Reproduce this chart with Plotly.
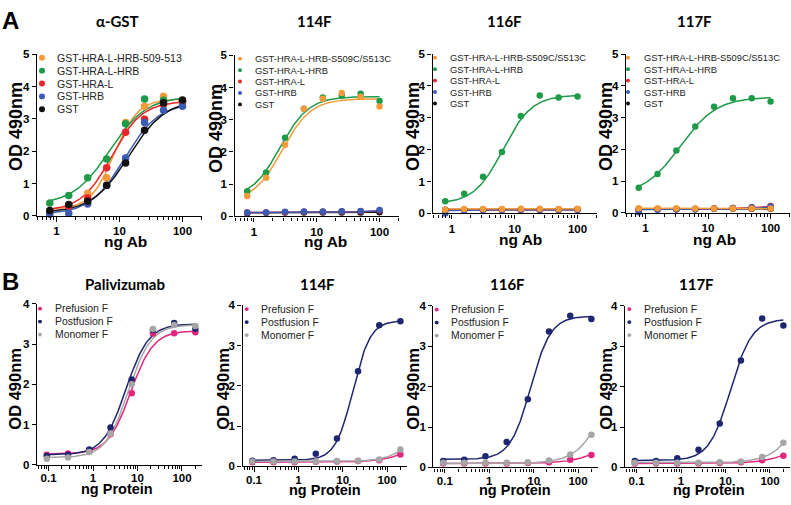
import numpy as np
import plotly.graph_objects as go

W, H = 791, 505

# ---------------- data ----------------
X_AB = [0.78125, 1.5625, 3.125, 6.25, 12.5, 25, 50, 100]          # ng Ab
X_PROT = [0.0914, 0.274, 0.823, 2.47, 7.41, 22.2, 66.7, 200]       # ng Protein

A_TITLES = ["α-GST", "114F", "116F", "117F"]
B_TITLES = ["Palivizumab", "114F", "116F", "117F"]
A_LABELS_1 = ["GST-HRA-L-HRB-509-513", "GST-HRA-L-HRB", "GST-HRA-L", "GST-HRB", "GST"]
A_LABELS_2 = ["GST-HRA-L-HRB-S509C/S513C", "GST-HRA-L-HRB", "GST-HRA-L", "GST-HRB", "GST"]
B_LABELS = ["Prefusion F", "Postfusion F", "Monomer F"]

A_COLORS = ["#F39A3B", "#1E9A48", "#E5262A", "#3B5BB5", "#111111"]
B_COLORS = ["#E0267D", "#1F2670", "#A6A6A6"]

Y_TICKS_A = [0, 1, 2, 3, 4, 5]
Y_TICKS_B = [0, 1, 2, 3, 4]
X_TICKS_A = [1, 10, 100]
X_TICKS_B = [0.1, 1, 10, 100]

# OD 490nm readings (series order = legend order)
AGST_OD = [
    [0.07, 0.33, 0.70, 1.18, 2.89, 3.39, 3.70, 3.47],
    [0.40, 0.63, 1.18, 1.76, 2.85, 3.62, 3.58, 3.55],
    [0.14, 0.30, 0.55, 1.49, 2.59, 2.99, 3.45, 3.55],
    [0.05, 0.08, 0.37, 0.94, 1.79, 2.89, 3.27, 3.39],
    [0.17, 0.35, 0.45, 0.95, 1.64, 2.65, 3.50, 3.59],
]
A114_OD = [
    [0.63, 1.20, 2.22, 3.34, 3.65, 3.83, 3.71, 3.41],
    [0.78, 1.36, 2.44, 3.34, 3.69, 3.75, 3.81, 3.58],
    [0.12, 0.12, 0.13, 0.14, 0.14, 0.15, 0.16, 0.18],
    [0.12, 0.12, 0.14, 0.15, 0.15, 0.16, 0.17, 0.20],
    [0.10, 0.11, 0.12, 0.12, 0.12, 0.12, 0.12, 0.13],
]
A116_OD = [
    [0.12, 0.14, 0.14, 0.14, 0.15, 0.15, 0.14, 0.15],
    [0.38, 0.62, 1.15, 1.93, 3.06, 3.70, 3.64, 3.67],
    [0.10, 0.12, 0.12, 0.12, 0.12, 0.12, 0.12, 0.12],
    [0.00, 0.10, 0.11, 0.11, 0.12, 0.12, 0.12, 0.12],
    [0.12, 0.12, 0.12, 0.12, 0.12, 0.12, 0.12, 0.13],
]
A117_OD = [
    [0.15, 0.15, 0.15, 0.14, 0.14, 0.14, 0.14, 0.14],
    [0.79, 1.23, 1.97, 2.72, 3.34, 3.61, 3.61, 3.51],
    [0.10, 0.12, 0.12, 0.13, 0.15, 0.16, 0.18, 0.22],
    [0.02, 0.10, 0.12, 0.12, 0.14, 0.16, 0.18, 0.20],
    [0.12, 0.12, 0.12, 0.12, 0.13, 0.13, 0.13, 0.13],
]
BPALI_OD = [
    [0.25, 0.28, 0.33, 0.76, 1.78, 3.26, 3.27, 3.29],
    [0.22, 0.25, 0.38, 0.93, 2.12, 3.35, 3.52, 3.38],
    [0.15, 0.18, 0.32, 0.77, 2.00, 3.37, 3.47, 3.45],
]
B114_OD = [
    [0.10, 0.10, 0.10, 0.11, 0.12, 0.13, 0.15, 0.29],
    [0.14, 0.15, 0.19, 0.31, 0.69, 2.36, 3.50, 3.60],
    [0.12, 0.12, 0.12, 0.12, 0.13, 0.14, 0.17, 0.42],
]
B116_OD = [
    [0.10, 0.10, 0.10, 0.10, 0.11, 0.13, 0.19, 0.31],
    [0.16, 0.19, 0.28, 0.63, 1.69, 3.37, 3.76, 3.68],
    [0.12, 0.12, 0.12, 0.12, 0.13, 0.17, 0.32, 0.81],
]
B117_OD = [
    [0.10, 0.10, 0.10, 0.10, 0.11, 0.13, 0.18, 0.29],
    [0.16, 0.16, 0.23, 0.44, 1.09, 2.65, 3.69, 3.52],
    [0.12, 0.12, 0.12, 0.12, 0.13, 0.15, 0.26, 0.61],
]

# 4-parameter logistic fit estimates: (bottom, top, EC50, Hill slope)
AGST_FIT = [(0.20, 3.62, 8.2, 2.3), (0.35, 3.70, 7.0, 1.5), (0.15, 3.55, 7.5, 1.8),
            (0.05, 3.50, 12.0, 1.6), (0.10, 3.60, 14.0, 1.5)]
A114_FIT = [(0.45, 3.65, 2.8, 1.9), (0.55, 3.72, 2.6, 1.9), (0.12, 0.60, 1000, 1.0),
            (0.12, 0.70, 1000, 1.0), (0.11, 0.13, 10, 1.0)]
A116_FIT = [(0.14, 0.15, 5, 1.0), (0.30, 3.72, 6.5, 1.9), (0.11, 0.12, 5, 1.0),
            (0.09, 0.12, 3, 1.5), (0.12, 0.13, 30, 1.0)]
A117_FIT = [(0.15, 0.14, 5, 1.0), (0.55, 3.65, 3.6, 1.5), (0.12, 1.00, 1000, 1.0),
            (0.11, 0.90, 1000, 1.0), (0.12, 0.13, 10, 1.0)]
BPALI_FIT = [(0.27, 3.33, 7.0, 1.7), (0.25, 3.50, 5.5, 1.7), (0.18, 3.48, 6.2, 1.7)]
B114_FIT = [(0.10, 0.80, 400, 1.3), (0.15, 3.62, 17, 2.2), (0.12, 1.50, 500, 1.5)]
B116_FIT = [(0.10, 1.00, 500, 1.2), (0.20, 3.75, 8.5, 1.9), (0.10, 4.00, 600, 1.3)]
B117_FIT = [(0.10, 1.00, 550, 1.2), (0.17, 3.68, 13, 1.8), (0.12, 4.00, 900, 1.3)]

# ---------------- layout helpers ----------------
def fx(p):
    return p / W

def fy(p):
    return 1 - p / H

def logistic(x, b, t, ec, h):
    x = np.asarray(x, dtype=float)
    return b + (t - b) / (1 + (ec / x) ** h)

FONT = "Liberation Sans, Arial, sans-serif"
TITLE_FONT = "Lato, Open Sans, sans-serif"

# panel boxes in px: left, right, top(ymax), bottom(ymin)
# leg = (marker x, text x, first line y, line step, font size, dot radius)
panels = [
    dict(box=(37, 202, 49.5, 215), xs=X_AB, od=AGST_OD, fit=AGST_FIT, colors=A_COLORS,
         labels=A_LABELS_1, title=A_TITLES[0], xr=[-0.31, 2.31], yt=Y_TICKS_A, xt=X_TICKS_A,
         order=[0, 1, 2, 3, 4], msize=7.5, leg=(42, 55, 53, 13.2, 10.6, 3.0), lstand=0,
         tpos=(117, 15), ylab=(16, 124, 18), xlab=(125, 241.5, 15.5), xname="ng Ab"),
    dict(box=(234.5, 399, 50.5, 215.5), xs=X_AB, od=A114_OD, fit=A114_FIT, colors=A_COLORS,
         labels=A_LABELS_2, title=A_TITLES[1], xr=[-0.31, 2.31], yt=Y_TICKS_A, xt=X_TICKS_A,
         order=[4, 2, 3, 1, 0], msize=6.5, leg=(240, 253, 54, 11.7, 9.4, 2.0), lstand=0,
         tpos=(314, 15), ylab=(216, 126, 18), xlab=(325, 241.5, 15.5), xname="ng Ab"),
    dict(box=(432.5, 597, 49.3, 212.5), xs=X_AB, od=A116_OD, fit=A116_FIT, colors=A_COLORS,
         labels=A_LABELS_2, title=A_TITLES[2], xr=[-0.31, 2.31], yt=Y_TICKS_A, xt=X_TICKS_A,
         order=[4, 2, 3, 1, 0], msize=6.5, leg=(435, 448.3, 53, 11.7, 9.4, 2.0), lstand=0,
         tpos=(504, 15), ylab=(413, 124, 18), xlab=(520, 239.5, 15.5), xname="ng Ab"),
    dict(box=(626, 790, 49.3, 212), xs=X_AB, od=A117_OD, fit=A117_FIT, colors=A_COLORS,
         labels=A_LABELS_2, title=A_TITLES[3], xr=[-0.31, 2.31], yt=Y_TICKS_A, xt=X_TICKS_A,
         order=[4, 2, 3, 1, 0], msize=6.5, leg=(628, 641.7, 53, 11.7, 9.4, 2.0), lstand=0,
         tpos=(694, 15), ylab=(606, 124, 18), xlab=(714, 239.5, 15.5), xname="ng Ab"),
    dict(box=(37, 202, 305, 470), xs=X_PROT, od=BPALI_OD, fit=BPALI_FIT, colors=B_COLORS,
         labels=B_LABELS, title=B_TITLES[0], xr=[-1.26, 2.45], yt=Y_TICKS_B, xt=X_TICKS_B,
         order=[0, 1, 2], msize=6.5, leg=(40, 53.3, 310, 13.3, 10.4, 2.0), lstand=-2,
         tpos=(125, 285), ylab=(15, 392, 16.5), xlab=(117, 494.5, 14.5), xname="ng Protein"),
    dict(box=(242.5, 407, 306.5, 471.5), xs=X_PROT, od=B114_OD, fit=B114_FIT, colors=B_COLORS,
         labels=B_LABELS, title=B_TITLES[1], xr=[-1.26, 2.45], yt=Y_TICKS_B, xt=X_TICKS_B,
         order=[0, 1, 2], msize=6.5, leg=(246.7, 259.3, 310.5, 13.3, 10.4, 2.0), lstand=-2,
         tpos=(317, 285), ylab=(223, 392, 16.5), xlab=(325, 495.5, 14.5), xname="ng Protein"),
    dict(box=(433.3, 598, 307.3, 472.7), xs=X_PROT, od=B116_OD, fit=B116_FIT, colors=B_COLORS,
         labels=B_LABELS, title=B_TITLES[2], xr=[-1.26, 2.45], yt=Y_TICKS_B, xt=X_TICKS_B,
         order=[0, 1, 2], msize=6.5, leg=(436.7, 449.3, 311, 13.3, 10.4, 2.0), lstand=-2,
         tpos=(507, 285), ylab=(413, 392, 16.5), xlab=(515, 496, 14.5), xname="ng Protein"),
    dict(box=(625, 790, 307.3, 472.7), xs=X_PROT, od=B117_OD, fit=B117_FIT, colors=B_COLORS,
         labels=B_LABELS, title=B_TITLES[3], xr=[-1.26, 2.45], yt=Y_TICKS_B, xt=X_TICKS_B,
         order=[0, 1, 2], msize=6.5, leg=(629.3, 641.7, 310.5, 13.3, 10.4, 2.0), lstand=-2,
         tpos=(696, 285), ylab=(606, 392, 16.5), xlab=(709, 496, 14.5), xname="ng Protein"),
]

fig = go.Figure()
annotations = []
shapes = []
layout_axes = {}

for i, p in enumerate(panels, start=1):
    xa = "x" if i == 1 else f"x{i}"
    ya = "y" if i == 1 else f"y{i}"
    xkey = "xaxis" if i == 1 else f"xaxis{i}"
    ykey = "yaxis" if i == 1 else f"yaxis{i}"
    l, r, t, b = p["box"]
    xs = p["xs"]
    xfine = np.geomspace(min(xs), max(xs), 200)

    for k in p["order"]:
        bb, tt, ec, hh = p["fit"][k]
        fig.add_trace(go.Scatter(
            x=xfine, y=logistic(xfine, bb, tt, ec, hh), mode="lines",
            line=dict(color=p["colors"][k], width=1.5), xaxis=xa, yaxis=ya,
            showlegend=False, hoverinfo="skip"))
    for k in p["order"]:
        fig.add_trace(go.Scatter(
            x=xs, y=p["od"][k], mode="markers",
            marker=dict(color=p["colors"][k], size=p["msize"], line=dict(width=0)),
            xaxis=xa, yaxis=ya, showlegend=False, cliponaxis=False,
            name=p["labels"][k]))

    minor_vals = [m * 10.0 ** e for e in range(-2, 3) for m in range(2, 10)]
    layout_axes[xkey] = dict(
        type="log", domain=[fx(l), fx(r)], range=p["xr"], anchor=ya,
        showline=True, linecolor="black", linewidth=1.4, showgrid=False, zeroline=False,
        tickmode="array", tickvals=p["xt"], ticktext=[f"{v:g}" for v in p["xt"]],
        ticks="outside", ticklen=4.5, tickwidth=1.3, tickcolor="black",
        ticklabelstandoff=p["lstand"],
        tickfont=dict(family=FONT, size=11.5, color="black", weight="bold"),
        minor=dict(tickmode="array", tickvals=minor_vals, ticks="outside",
                   ticklen=3, tickwidth=1, tickcolor="black", showgrid=False),
        fixedrange=True)
    layout_axes[ykey] = dict(
        domain=[fy(b), fy(t)], range=[p["yt"][0], p["yt"][-1]], anchor=xa,
        showline=True, linecolor="black", linewidth=1.4, showgrid=False, zeroline=False,
        tickmode="array", tickvals=p["yt"], ticks="outside", ticklen=4, tickwidth=1.3,
        tickcolor="black", tickfont=dict(family=FONT, size=11.5, color="black", weight="bold"),
        fixedrange=True)

    # title
    annotations.append(dict(text=p["title"], x=fx(p["tpos"][0]), y=fy(p["tpos"][1]),
                            xref="paper", yref="paper", showarrow=False, xanchor="center",
                            yanchor="middle",
                            font=dict(family=TITLE_FONT, size=15, color="black", weight="bold")))
    # axis titles
    annotations.append(dict(text="OD 490nm", x=fx(p["ylab"][0]), y=fy(p["ylab"][1]),
                            xref="paper", yref="paper", showarrow=False, textangle=-90,
                            xanchor="center", yanchor="middle",
                            font=dict(family=FONT, size=p["ylab"][2], color="black",
                                      weight="bold")))
    annotations.append(dict(text=p["xname"], x=fx(p["xlab"][0]), y=fy(p["xlab"][1]),
                            xref="paper", yref="paper", showarrow=False,
                            xanchor="center", yanchor="middle",
                            font=dict(family=FONT, size=p["xlab"][2], color="black",
                                      weight="bold")))
    # legend
    mx, tx, y0, step, fs, rr = p["leg"]
    for j, lab in enumerate(p["labels"]):
        yy = y0 + j * step
        shapes.append(dict(type="circle", xref="paper", yref="paper",
                           x0=fx(mx - rr), x1=fx(mx + rr), y0=fy(yy + rr), y1=fy(yy - rr),
                           fillcolor=p["colors"][j], line=dict(width=0)))
        annotations.append(dict(text=lab, x=fx(tx), y=fy(yy), xref="paper", yref="paper",
                                showarrow=False, xanchor="left", yanchor="middle",
                                font=dict(family=FONT, size=fs, color="#222222")))

# panel letters
annotations.append(dict(text="A", x=fx(10), y=fy(15), xref="paper", yref="paper",
                        showarrow=False, xanchor="center", yanchor="middle",
                        font=dict(family=FONT, size=24, color="black", weight="bold")))
annotations.append(dict(text="B", x=fx(10), y=fy(282), xref="paper", yref="paper",
                        showarrow=False, xanchor="center", yanchor="middle",
                        font=dict(family=FONT, size=24, color="black", weight="bold")))

fig.update_layout(width=W, height=H, margin=dict(l=0, r=0, t=0, b=0),
                  paper_bgcolor="white", plot_bgcolor="white", showlegend=False,
                  annotations=annotations, shapes=shapes, **layout_axes)

fig.write_html("out.html",
               config={"displayModeBar": False},
               post_script="document.body.style.margin='0px';"
                           "document.body.style.padding='0px';"
                           "document.documentElement.style.overflow='hidden';")
